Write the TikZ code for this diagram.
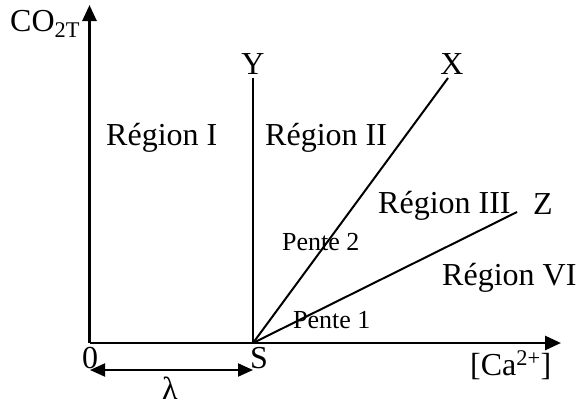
\documentclass[tikz,border=0pt]{standalone}
\usepackage{fontspec}
\setmainfont{Liberation Serif}
\usetikzlibrary{arrows.meta, positioning}

\begin{document}
\begin{tikzpicture}[x=1pt, y=-1pt, >={Triangle[length=16pt, width=14pt]},
  lbl/.style={font=\fontsize{32}{38}\selectfont, inner sep=0pt},
  region/.style={lbl, anchor=base west},
  pente/.style={font=\fontsize{26}{30}\selectfont, inner sep=0pt, anchor=base west},
  seg/.style={line width=2pt}]
  \useasboundingbox (0,0) rectangle (577,407);
  % axes
  \coordinate (O) at (89.5,343);
  \coordinate (S) at (253,343);
  \coordinate (ytip) at (89.5,5);
  \coordinate (xtip) at (561,343);
  \draw[line width=2.7pt, ->] (O) -- (ytip);
  \draw[line width=2.7pt, ->] (O) -- (xtip);
  \node[region] (co) at (10,31) {CO\textsubscript{2T}};
  \node[region] (ca) at (470,375) {[Ca\textsuperscript{2+}]};
  \node[lbl] (zero) at (90,358) {0};
  \node[lbl] (slab) at (259,358) {S};
  % lines from S
  \coordinate (yend) at (253,78);
  \coordinate (xend) at (448,78);
  \coordinate (zend) at (517,212);
  \draw[seg] (S) -- (yend);
  \draw[seg] (S) -- (xend);
  \draw[seg] (S) -- (zend);
  \node[lbl] (ylab) at (253,64) {Y};
  \node[lbl] (xlab) at (452,64) {X};
  \node[lbl] (zlab) at (543,204) {Z};
  % regions
  \node[region] (r1) at (106,145) {Région I};
  \node[region] (r2) at (265,145) {Région II};
  \node[region] (r3) at (378,213) {Région III};
  \node[region] (r4) at (442,285) {Région VI};
  \node[pente] (p2) at (282,250) {Pente 2};
  \node[pente] (p1) at (293,328) {Pente 1};
  % lambda
  \coordinate (la) at (90,370);
  \coordinate (lb) at (253,370);
  \draw[seg, {Triangle[length=15pt, width=13pt]}-{Triangle[length=15pt, width=13pt]}] (la) -- (lb);
  \node[lbl] (lam) at (170,388) {λ};
\end{tikzpicture}
\end{document}
